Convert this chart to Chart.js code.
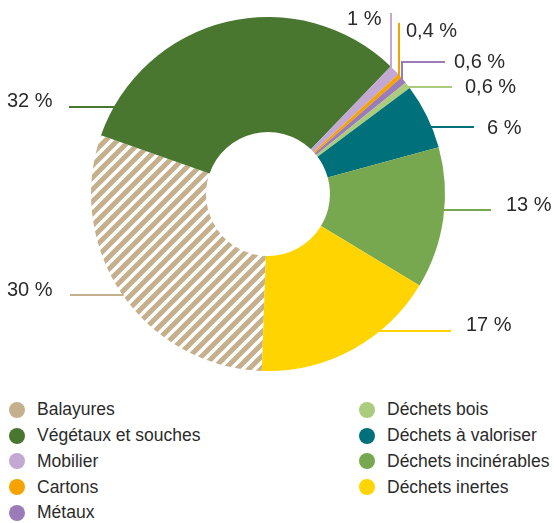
<!DOCTYPE html>
<html lang="fr">
<head>
<meta charset="utf-8">
<script src="https://cdn.jsdelivr.net/npm/chart.js@4/dist/chart.umd.min.js"></script>
<style>
  html, body { margin: 0; padding: 0; background: #fff; }
  #wrap { position: relative; width: 554px; height: 523px; font-family: "Liberation Sans", Arial, sans-serif; color: #2b2b2b; }
  #chartBox { position: absolute; left: 0; top: 0; width: 554px; height: 390px; }
  .legend { position: absolute; top: 397px; margin: 0; padding: 0; list-style: none; }
  .legend li { height: 25.75px; display: flex; align-items: center; font-size: 17.5px; white-space: nowrap; }
  .legend .dot { width: 16px; height: 16px; border-radius: 50%; margin-right: 12px; flex: none; }
</style>
</head>
<body>
<div id="wrap">
  <div id="chartBox"><canvas id="chartWaste"></canvas></div>
  <ul class="legend" id="legLeft" style="left:9px"></ul>
  <ul class="legend" id="legRight" style="left:359px"></ul>
</div>
<script>
// Répartition des déchets collectés (%)
const categories = [
  'Balayures', 'Végétaux et souches', 'Mobilier', 'Cartons', 'Métaux',
  'Déchets bois', 'Déchets à valoriser', 'Déchets incinérables', 'Déchets inertes'
];
const shares = [30, 32, 1, 0.4, 0.6, 0.6, 6, 13, 17];
const colors = [
  '#c4b08c', '#4a7730', '#c3a8d4', '#f5a300', '#9b7bb8',
  '#abcc7c', '#00707a', '#77a84f', '#ffd400'
];

// leader line placement per slice (canvas px)
const leaders = [
  { kind: 'left',  y: 295, end: 70,  tx: 7,   ty: 296 },
  { kind: 'left',  y: 107, end: 69,  tx: 7,   ty: 107 },
  { kind: 'up',    x: 391, top: 13,  tx: 347, ty: 25 },
  { kind: 'up',    x: 399, top: 23,  tx: 406, ty: 37 },
  { kind: 'elbow', x: 402, y: 62, end: 445, tx: 454, ty: 68 },
  { kind: 'right', y: 87,  end: 452, tx: 465, ty: 93 },
  { kind: 'right', y: 127, end: 474, tx: 487, ty: 134 },
  { kind: 'right', y: 210, end: 491, tx: 506, ty: 211 },
  { kind: 'right', y: 331, end: 451, tx: 466, ty: 331 }
];

const fmt = v => String(v).replace('.', ',') + ' %';

// diagonal stripes for "Balayures"
function stripes(base) {
  const s = 12;
  const c = document.createElement('canvas');
  c.width = s; c.height = s;
  const g = c.getContext('2d');
  g.fillStyle = base;
  g.fillRect(0, 0, s, s);
  g.strokeStyle = '#fff';
  g.lineWidth = 3.4;
  g.beginPath();
  g.moveTo(-2, 2); g.lineTo(2, -2);
  g.moveTo(0, s); g.lineTo(s, 0);
  g.moveTo(s - 2, s + 2); g.lineTo(s + 2, s - 2);
  g.stroke();
  return g.createPattern(c, 'repeat');
}

const fills = colors.map((c, i) => i === 0 ? stripes(c) : c);

const leaderPlugin = {
  id: 'leaders',
  afterDatasetsDraw(chart) {
    const ctx = chart.ctx;
    const arcs = chart.getDatasetMeta(0).data;
    const { x: cx, y: cy, outerRadius: r } = arcs[0];
    ctx.save();
    ctx.lineWidth = 2;
    ctx.font = '20px "Liberation Sans", Arial, sans-serif';
    ctx.fillStyle = '#2b2b2b';
    ctx.textBaseline = 'alphabetic';
    ctx.textAlign = 'left';
    leaders.forEach((L, i) => {
      ctx.strokeStyle = colors[i];
      ctx.beginPath();
      if (L.kind === 'left' || L.kind === 'right') {
        const dx = Math.sqrt(r * r - (L.y - cy) ** 2) - 1;
        ctx.moveTo(L.kind === 'left' ? cx - dx : cx + dx, L.y);
        ctx.lineTo(L.end, L.y);
      } else if (L.kind === 'up') {
        const dy = Math.sqrt(r * r - (L.x - cx) ** 2) - 1;
        ctx.moveTo(L.x, cy - dy);
        ctx.lineTo(L.x, L.top);
      } else {
        const dy = Math.sqrt(r * r - (L.x - cx) ** 2) - 1;
        ctx.moveTo(L.x, cy - dy);
        ctx.lineTo(L.x, L.y);
        ctx.lineTo(L.end, L.y);
      }
      ctx.stroke();
      ctx.fillText(fmt(shares[i]), L.tx, L.ty);
    });
    ctx.restore();
  }
};

new Chart(document.getElementById('chartWaste'), {
  type: 'doughnut',
  data: {
    labels: categories,
    datasets: [{ data: shares, backgroundColor: fills, borderWidth: 0, hoverOffset: 0 }]
  },
  options: {
    responsive: true,
    maintainAspectRatio: false,
    animation: false,
    rotation: 182,
    cutout: '35%',
    layout: { padding: { left: 91, right: 109, top: 17, bottom: 19 } },
    plugins: { legend: { display: false }, tooltip: { enabled: false } },
    events: []
  },
  plugins: [leaderPlugin]
});

// legend in two columns
function fillLegend(id, from, to) {
  const ul = document.getElementById(id);
  ul.innerHTML = categories.slice(from, to).map((c, k) =>
    `<li><span class="dot" style="background:${colors[from + k]}"></span>${c}</li>`).join('');
}
fillLegend('legLeft', 0, 5);
fillLegend('legRight', 5, 9);
</script>
</body>
</html>
